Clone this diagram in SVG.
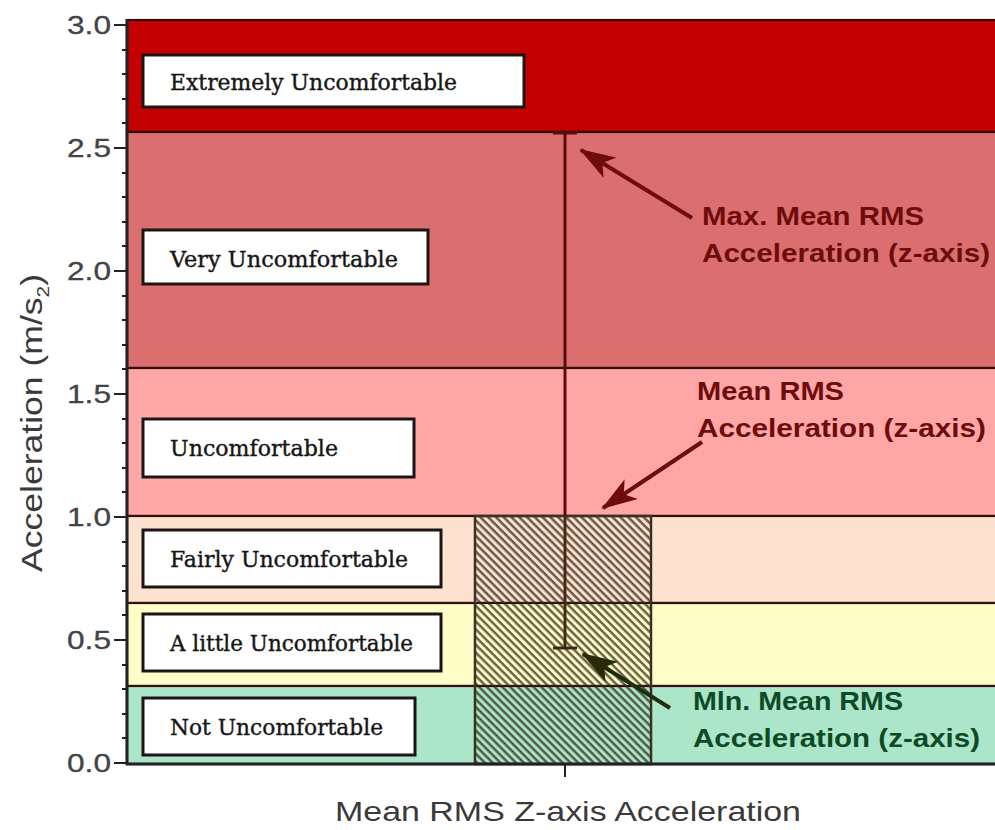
<svg xmlns="http://www.w3.org/2000/svg" width="995" height="830" viewBox="0 0 995 830">
<defs>
<style>
.band{stroke:#2e1210;stroke-width:2.2}
.lbl rect{fill:#fff;stroke:#1e1414;stroke-width:3}
.lbl text{font-family:"DejaVu Serif","Liberation Serif",serif;font-size:23px;fill:#161616;stroke:#161616;stroke-width:0.4}
.tick{font-family:"Liberation Sans",Arial,sans-serif;font-size:25px;fill:#444;text-anchor:end;stroke:#444;stroke-width:0.3}
.ann{font-family:"Liberation Sans",Arial,sans-serif;font-weight:bold;font-size:26px}
.red{fill:#6e0c0c}
.grn{fill:#0f4a26}
.axis{stroke:#222;stroke-width:3;fill:none}
.mt{stroke:#222;stroke-width:2}
</style>
<pattern id="hatch" patternUnits="userSpaceOnUse" width="5.5" height="5.5" patternTransform="rotate(-45)">
<line x1="1.5" y1="0" x2="1.5" y2="5.5" stroke="#2a2010" stroke-opacity="0.72" stroke-width="2.4"/>
</pattern>
<marker id="ahR" viewBox="0 0 36 24" refX="34" refY="12" markerWidth="36" markerHeight="24" markerUnits="userSpaceOnUse" orient="auto">
<path d="M0,0 L36,12 L0,24 L9,12 z" fill="#6e0c0c"/>
</marker>
<marker id="ahG" viewBox="0 0 36 24" refX="34" refY="12" markerWidth="36" markerHeight="24" markerUnits="userSpaceOnUse" orient="auto">
<path d="M0,0 L36,12 L0,24 L9,12 z" fill="#2a2a08"/>
</marker>
</defs>
<rect width="995" height="830" fill="#fff"/>

<g id="bands">
<rect id="band-extreme" class="band" x="127" y="20" width="870" height="112" fill="#c40000"/>
<rect id="band-very" class="band" x="127" y="132" width="870" height="236" fill="#db6f6f"/>
<rect id="band-unc" class="band" x="127" y="368" width="870" height="148" fill="#ffa7a7"/>
<rect id="band-fairly" class="band" x="127" y="516" width="870" height="87" fill="#fde2d0"/>
<rect id="band-little" class="band" x="127" y="603" width="870" height="83" fill="#fffdc8"/>
<rect id="band-not" class="band" x="127" y="686" width="870" height="78" fill="#ace6ca"/>
</g>

<g id="bar">
<rect x="475" y="516" width="176" height="248" fill="url(#hatch)" stroke="#3e3020" stroke-width="2.5"/>
</g>

<g id="errorbar" stroke="#5a0c0c" stroke-width="3" fill="none">
<line x1="565" y1="133" x2="565" y2="516"/>
<line x1="565" y1="516" x2="565" y2="648" stroke="#4a2a14"/>
<line x1="553" y1="133" x2="577" y2="133"/>
<line x1="553" y1="648" x2="577" y2="648" stroke="#3a2a10"/>
</g>

<g id="label-extreme" class="lbl"><rect x="143" y="55" width="381" height="52"/><text x="170" y="90" textLength="287" lengthAdjust="spacingAndGlyphs">Extremely Uncomfortable</text></g>
<g id="label-very" class="lbl"><rect x="143" y="230" width="285" height="54"/><text x="170" y="267" textLength="228" lengthAdjust="spacingAndGlyphs">Very Uncomfortable</text></g>
<g id="label-unc" class="lbl"><rect x="143" y="419" width="271" height="58"/><text x="170" y="456" textLength="168" lengthAdjust="spacingAndGlyphs">Uncomfortable</text></g>
<g id="label-fairly" class="lbl"><rect x="143" y="530" width="298" height="57"/><text x="170" y="567" textLength="238" lengthAdjust="spacingAndGlyphs">Fairly Uncomfortable</text></g>
<g id="label-little" class="lbl"><rect x="143" y="614" width="298" height="57"/><text x="170" y="651" textLength="243" lengthAdjust="spacingAndGlyphs">A little Uncomfortable</text></g>
<g id="label-not" class="lbl"><rect x="143" y="698" width="272" height="57"/><text x="170" y="735" textLength="213" lengthAdjust="spacingAndGlyphs">Not Uncomfortable</text></g>

<g id="axes">
<line class="axis" x1="127" y1="19" x2="127" y2="765"/>
<line class="axis" x1="126" y1="764" x2="995" y2="764" stroke="#17301f"/>
<line class="mt" x1="565" y1="764" x2="565" y2="777"/>
<g class="mt">
<line x1="114" y1="25" x2="127" y2="25"/><line x1="114" y1="148" x2="127" y2="148"/><line x1="114" y1="271" x2="127" y2="271"/><line x1="114" y1="394" x2="127" y2="394"/><line x1="114" y1="517" x2="127" y2="517"/><line x1="114" y1="640" x2="127" y2="640"/><line x1="114" y1="763" x2="127" y2="763"/>
</g>
<g class="mt" stroke-width="2.5">
<line x1="122" y1="50" x2="128" y2="50"/><line x1="122" y1="74" x2="128" y2="74"/><line x1="122" y1="99" x2="128" y2="99"/><line x1="122" y1="123" x2="128" y2="123"/>
<line x1="122" y1="173" x2="128" y2="173"/><line x1="122" y1="197" x2="128" y2="197"/><line x1="122" y1="222" x2="128" y2="222"/><line x1="122" y1="246" x2="128" y2="246"/>
<line x1="122" y1="296" x2="128" y2="296"/><line x1="122" y1="320" x2="128" y2="320"/><line x1="122" y1="345" x2="128" y2="345"/><line x1="122" y1="369" x2="128" y2="369"/>
<line x1="122" y1="419" x2="128" y2="419"/><line x1="122" y1="443" x2="128" y2="443"/><line x1="122" y1="468" x2="128" y2="468"/><line x1="122" y1="492" x2="128" y2="492"/>
<line x1="122" y1="542" x2="128" y2="542"/><line x1="122" y1="566" x2="128" y2="566"/><line x1="122" y1="591" x2="128" y2="591"/><line x1="122" y1="615" x2="128" y2="615"/>
<line x1="122" y1="665" x2="128" y2="665"/><line x1="122" y1="689" x2="128" y2="689"/><line x1="122" y1="714" x2="128" y2="714"/><line x1="122" y1="738" x2="128" y2="738"/>
</g>
<text class="tick" x="111" y="34" textLength="44" lengthAdjust="spacingAndGlyphs">3.0</text>
<text class="tick" x="111" y="157" textLength="44" lengthAdjust="spacingAndGlyphs">2.5</text>
<text class="tick" x="111" y="280" textLength="44" lengthAdjust="spacingAndGlyphs">2.0</text>
<text class="tick" x="111" y="403" textLength="44" lengthAdjust="spacingAndGlyphs">1.5</text>
<text class="tick" x="111" y="526" textLength="44" lengthAdjust="spacingAndGlyphs">1.0</text>
<text class="tick" x="111" y="649" textLength="44" lengthAdjust="spacingAndGlyphs">0.5</text>
<text class="tick" x="111" y="772" textLength="44" lengthAdjust="spacingAndGlyphs">0.0</text>
<text x="42" y="572" transform="rotate(-90 42 572)" font-family="'Liberation Sans',Arial,sans-serif" font-size="29" fill="#3a3a3a" textLength="298" lengthAdjust="spacingAndGlyphs">Acceleration (m/s<tspan font-size="17" dy="7">2</tspan><tspan dy="-7">)</tspan></text>
<text x="335" y="821" font-family="'Liberation Sans',Arial,sans-serif" font-size="28" fill="#3a3a3a" textLength="466" lengthAdjust="spacingAndGlyphs">Mean RMS Z-axis Acceleration</text>
</g>

<g id="connectors" fill="none" stroke-width="4">
<line x1="692" y1="218" x2="581" y2="150" stroke="#6e0c0c" marker-end="url(#ahR)"/>
<line x1="702" y1="442" x2="603" y2="508" stroke="#6e0c0c" marker-end="url(#ahR)"/>
<line x1="670" y1="708" x2="583" y2="654" stroke="#1f2e10" marker-end="url(#ahG)"/>
</g>

<g id="ann-max" class="ann red">
<text x="702" y="225" textLength="222" lengthAdjust="spacingAndGlyphs">Max. Mean RMS</text>
<text x="702" y="262" textLength="288" lengthAdjust="spacingAndGlyphs">Acceleration (z-axis)</text>
</g>
<g id="ann-mean" class="ann red">
<text x="697" y="400" textLength="147" lengthAdjust="spacingAndGlyphs">Mean RMS</text>
<text x="697" y="437" textLength="289" lengthAdjust="spacingAndGlyphs">Acceleration (z-axis)</text>
</g>
<g id="ann-min" class="ann grn">
<text x="693" y="710" textLength="210" lengthAdjust="spacingAndGlyphs">Mln. Mean RMS</text>
<text x="693" y="747" textLength="287" lengthAdjust="spacingAndGlyphs">Acceleration (z-axis)</text>
</g>
</svg>
